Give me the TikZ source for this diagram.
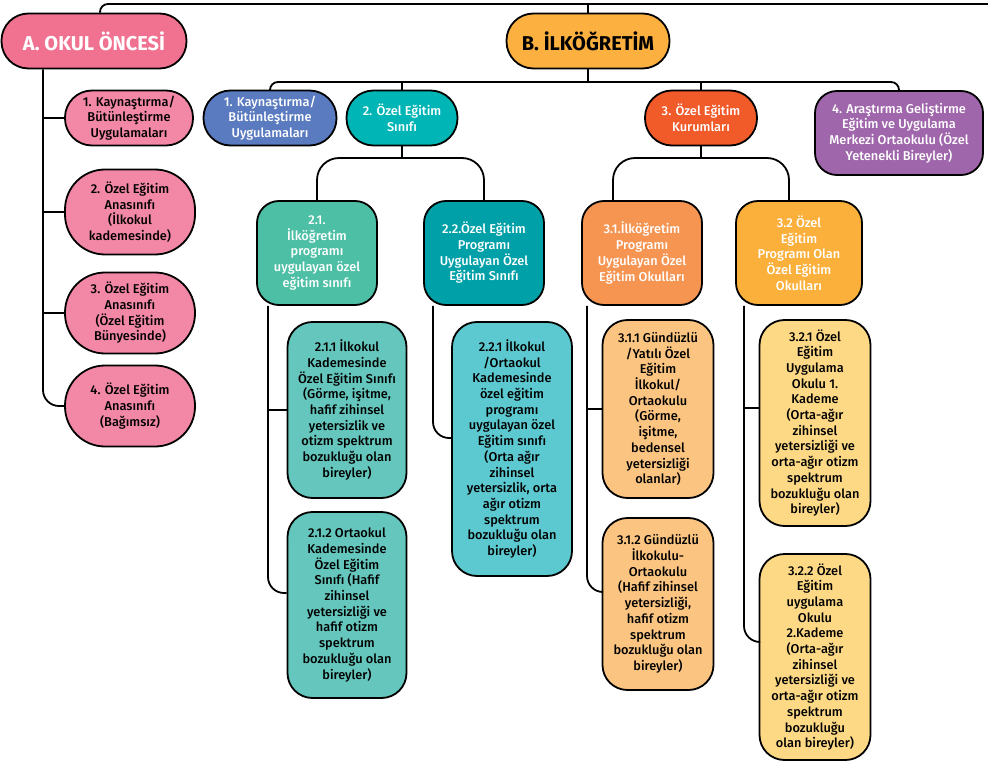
\documentclass[tikz,border=0pt]{standalone}
\usepackage{fontspec}
\setmainfont{Fira Sans}[UprightFont={* Medium}, BoldFont={* Bold}]
\usetikzlibrary{shapes,calc,positioning}

\definecolor{apink}{HTML}{F07290}
\definecolor{lpink}{HTML}{F287A6}
\definecolor{borange}{HTML}{FBB040}
\definecolor{bblue}{HTML}{5A7BBF}
\definecolor{bteal}{HTML}{00B5B5}
\definecolor{bred}{HTML}{F15A29}
\definecolor{bpurple}{HTML}{A066AB}
\definecolor{sgreen}{HTML}{4DBFA5}
\definecolor{steal}{HTML}{00A0A8}
\definecolor{lgreen}{HTML}{64C6BC}
\definecolor{lcyan}{HTML}{5CC8CF}
\definecolor{sorange}{HTML}{F69552}
\definecolor{syellow}{HTML}{FBB03B}
\definecolor{lorange}{HTML}{FBC480}
\definecolor{lyellow}{HTML}{FDD985}

\begin{document}
\begin{tikzpicture}[x=1pt, y=-1pt,
  box/.style={draw, line width=1.8pt, align=center, inner sep=0pt,
    font=\fontsize{12.8}{15.7}\selectfont},
  head/.style={box, rounded corners=27, minimum height=55,
    font=\fontsize{20}{23}\selectfont\bfseries},
  pill/.style={box, rounded corners=27, minimum height=55},
  midbox/.style={box, rounded corners=22, minimum height=104, text=white},
  leaf/.style={box, rounded corners=25, minimum width=119},
  link/.style={line width=1.8pt}]
  \useasboundingbox (0,0) rectangle (988,762);

  % main groups
  \node[head, fill=apink, text=white, minimum width=185] (okul) at (94,41) {A. OKUL ÖNCESİ};
  \node[head, fill=borange, minimum width=163] (ilk) at (588,41) {B. İLKÖĞRETİM};
  \coordinate (topend) at (988,4);
  \draw[link, rounded corners=8] (okul.north -| 100,0) |- (topend);
  \draw[link] (ilk.north) -- (ilk.north |- topend);

  % okul oncesi
  \node[pill, fill=lpink, minimum width=128] (a1) at (129,118) {1. Kaynaştırma/\\Bütünleştirme\\Uygulamaları};
  \node[box, fill=lpink, rounded corners=40, minimum width=130, minimum height=85] (a2) at (130,212) {2. Özel Eğitim\\Anasınıfı\\(İlkokul\\kademesinde)};
  \node[box, fill=lpink, rounded corners=40, minimum width=130, minimum height=81] (a3) at (130,313) {3. Özel Eğitim\\Anasınıfı\\(Özel Eğitim\\Bünyesinde)};
  \node[box, fill=lpink, rounded corners=40, minimum width=130, minimum height=81] (a4) at (130,406) {4. Özel Eğitim\\Anasınıfı\\(Bağımsız)};
  \draw[link, rounded corners=16] (okul.south -| 43,0) |- (a4.west);
  \foreach \n in {a1,a2,a3}
    \draw[link] (\n.west) -- (\n.west -| 43,0);

  % ilkogretim
  \node[pill, fill=bblue, text=white, minimum width=133] (b1) at (270,118) {1. Kaynaştırma/\\Bütünleştirme\\Uygulamaları};
  \node[pill, fill=bteal, text=white, minimum width=111] (b2) at (402,118) {2. Özel Eğitim\\Sınıfı};
  \node[pill, fill=bred, text=white, minimum width=112] (b3) at (701,118) {3. Özel Eğitim\\Kurumları};
  \node[box, rounded corners=22, fill=bpurple, text=white, minimum width=168, minimum height=84] (b4) at (899,133) {4. Araştırma Geliştirme\\Eğitim ve Uygulama\\Merkezi Ortaokulu (Özel\\Yetenekli Bireyler)};
  \coordinate (bbar) at (588,82);
  \draw[link] (ilk.south) -- (bbar);
  \draw[link, rounded corners=8] (b1.north) |- (bbar) -| (b4.north);
  \draw[link] (b2.north) -- (b2.north |- bbar);
  \draw[link] (b3.north) -- (b3.north |- bbar);

  % ozel egitim sinifi
  \node[midbox, fill=sgreen, minimum width=120] (s21) at (317,253) {2.1.\\İlköğretim\\programı\\uygulayan özel\\eğitim sınıfı};
  \node[midbox, fill=steal, minimum width=120] (s22) at (484,253) {2.2.Özel Eğitim\\Programı\\Uygulayan Özel\\Eğitim Sınıfı};
  \coordinate (b2fork) at (402,158);
  \draw[link] (b2.south) -- (b2fork);
  \draw[link, rounded corners=22] (s21.north) |- (b2fork) -| (s22.north);

  \node[leaf, fill=lgreen, minimum height=176] (s211) at (347,410) {2.1.1 İlkokul\\Kademesinde\\Özel Eğitim Sınıfı\\(Görme, işitme,\\hafif zihinsel\\yetersizlik ve\\otizm spektrum\\bozukluğu olan\\bireyler)};
  \node[leaf, fill=lgreen, minimum height=186] (s212) at (347,605) {2.1.2 Ortaokul\\Kademesinde\\Özel Eğitim\\Sınıfı (Hafif\\zihinsel\\yetersizliği ve\\hafif otizm\\spektrum\\bozukluğu olan\\bireyler)};
  \draw[link, rounded corners=16] (s21.south -| 268,0) |- (s212.west |- 0,593);
  \draw[link] (s211.west) -- (s211.west -| 268,0);

  \node[leaf, fill=lcyan, minimum width=120, minimum height=254] (s221) at (512,449) {2.2.1 İlkokul\\/Ortaokul\\Kademesinde\\özel eğitim\\programı\\uygulayan özel\\Eğitim sınıfı\\(Orta ağır\\zihinsel\\yetersizlik, orta\\ağır otizm\\spektrum\\bozukluğu olan\\bireyler)};
  \draw[link, rounded corners=16] (s22.south -| 433,0) |- (s221.west |- 0,438);

  % ozel egitim kurumlari
  \node[midbox, fill=sorange, minimum width=120] (s31) at (642,253) {3.1.İlköğretim\\Programı\\Uygulayan Özel\\Eğitim Okulları};
  \node[midbox, fill=syellow, minimum width=126] (s32) at (799,253) {3.2 Özel\\Eğitim\\Programı Olan\\Özel Eğitim\\Okulları};
  \coordinate (b3fork) at (701,158);
  \draw[link] (b3.south) -- (b3fork);
  \draw[link, rounded corners=22] (s31.north -| 613,0) |- (b3fork) -| (s32.north -| 789,0);

  \node[leaf, fill=lorange, minimum width=111, minimum height=178] (s311) at (658,409) {3.1.1 Gündüzlü\\/Yatılı Özel\\Eğitim\\İlkokul/\\Ortaokulu\\(Görme,\\işitme,\\bedensel\\yetersizliği\\olanlar)};
  \node[leaf, fill=lorange, minimum width=111, minimum height=172] (s312) at (658,604) {3.1.2 Gündüzlü\\İlkokulu-\\Ortaokulu\\(Hafif zihinsel\\yetersizliği,\\hafif otizm\\spektrum\\bozukluğu olan\\bireyler)};
  \draw[link, rounded corners=16] (s31.south -| 587,0) |- (s312.west |- 0,592);
  \draw[link] (s311.west) -- (s311.west -| 587,0);

  \node[leaf, fill=lyellow, minimum width=111, minimum height=206] (s321) at (815,423) {3.2.1 Özel\\Eğitim\\Uygulama\\Okulu 1.\\Kademe\\(Orta-ağır\\zihinsel\\yetersizliği ve\\orta-ağır otizm\\spektrum\\bozukluğu olan\\bireyler)};
  \node[leaf, fill=lyellow, minimum width=111, minimum height=206] (s322) at (815,657) {3.2.2 Özel\\Eğitim\\uygulama\\Okulu\\2.Kademe\\(Orta-ağır\\zihinsel\\yetersizliği ve\\orta-ağır otizm\\spektrum\\bozukluğu\\olan bireyler)};
  \draw[link, rounded corners=16] (s32.south -| 744,0) |- (s322.west |- 0,642);
  \draw[link] (s321.west |- 0,408) -- (744,408);
\end{tikzpicture}
\end{document}
